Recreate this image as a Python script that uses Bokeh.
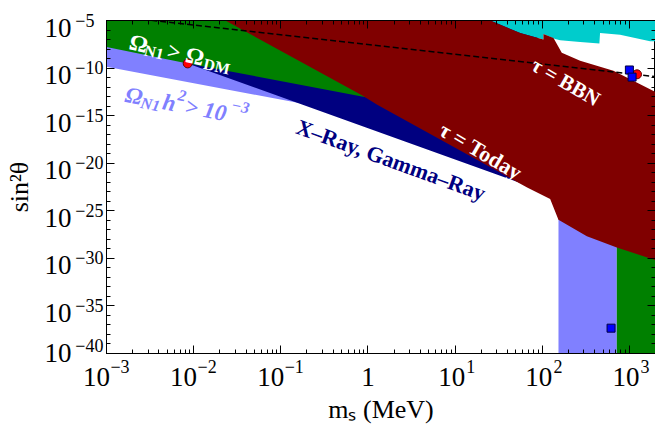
import math
from bokeh.plotting import figure
from bokeh.models import FixedTicker, LogAxis, Range1d, CustomJSTickFormatter
from bokeh.embed import file_html
from bokeh.resources import INLINE
from bokeh.core.properties import value

# ---------------- axis ticks ----------------
x_major = [1e-3, 1e-2, 1e-1, 1.0, 1e1, 1e2, 1e3]
x_label_base = ["10", "10", "10", "1", "10", "10", "10"]
x_label_exp = ["−3", "−2", "−1", "", "1", "2", "3"]
x_minor = [k * 10.0 ** n for n in range(-3, 4) for k in range(2, 10)]
y_major = [1e-40, 1e-35, 1e-30, 1e-25, 1e-20, 1e-15, 1e-10, 1e-5]
y_label_base = ["10"] * 8
y_label_exp = ["−40", "−35", "−30", "−25", "−20", "−15", "−10", "−5"]
y_minor = [10.0 ** n for n in range(-40, -4)]

X_MIN, X_MAX = 1e-3, 2000.0
Y_MIN, Y_MAX = 1e-40, 1e-5

# ---------------- region boundaries (m_s in MeV, sin^2 theta) ----------------
dm_ms = [1e-3, 8.55e-3, 0.885, 10.0]
dm_sin2 = [1.66e-8, 3.09e-10, 9.8e-14, 1.4e-15]

relic_ms = [1e-3, 0.168, 1.0]
relic_sin2 = [1.38e-10, 2.0e-14, 9.1e-16]

xray_ms = [1e-3, 8.55e-3, 72.8, 89.0]
xray_sin2 = [3.6e-7, 3.09e-10, 3.5e-23, 1.8e-23]

today_ms = [0.0146, 0.863, 1.28, 67.3, 123.6, 153.8, 326.0, 719.0, 2500.0]
today_sin2 = [1e-4, 1.33e-13, 1.40e-14, 2.8e-23, 1.75e-24, 1.12e-26, 2.14e-28, 1.38e-29, 3.3e-31]
upper_ms = [2500.0, 658.0, 273.0, 168.0, 135.0, 103.5, 103.5, 56.0, 25.4, 13.9]
upper_sin2 = [1.07e-13, 5.37e-11, 5.75e-10, 4.2e-9, 1.48e-7, 3.8e-7, 9.8e-8, 4.8e-7, 1e-5, 1e-4]

cyan_ms = [13.9, 25.4, 56.0, 103.5, 103.5, 141.0, 161.0, 273.0, 454.0, 462.0, 784.0, 1733.0, 2500.0, 2500.0]
cyan_sin2 = [1e-4, 1e-5, 4.8e-7, 9.8e-8, 3.8e-7, 1.16e-7, 8.3e-8, 5.4e-8, 3.8e-8, 4.8e-7, 3.2e-7, 6.6e-8, 6.6e-8, 1e-4]

band_blue_ms = [154.0, 719.0]
band_green_ms = [719.0, 2500.0]
band_top = 1e-20

bbn_ms = [1e-3, 2500.0]
bbn_sin2 = [3.5e-5, 1.0e-11]

red_ms = [8.55e-3, 1227.0]
red_sin2 = [3.1e-10, 2.2e-11]
blue_ms = [1003.0, 1077.0, 618.0]
blue_sin2 = [6.3e-11, 1.12e-11, 4.6e-38]

# ---------------- colours ----------------
C_GREEN = "#008000"
C_LBLUE = "#8080FF"
C_NAVY = "#000080"
C_MAROON = "#800000"
C_CYAN = "#00CCCC"

FONT = "Liberation Serif"
W, H = 655, 426
BL, BR, BT, BB = 106, 0, 20, 66
FW, FH = W - BL - BR, H - BT - BB

p = figure(width=W, height=H, x_axis_type="log", y_axis_type="log",
           x_range=Range1d(X_MIN, X_MAX), y_range=Range1d(Y_MIN, Y_MAX),
           output_backend="svg", toolbar_location=None,
           min_border_left=BL, min_border_right=BR, min_border_top=BT, min_border_bottom=BB)
p.grid.visible = False
p.outline_line_color = "black"
p.outline_line_width = 1
p.background_fill_color = "white"
p.border_fill_color = "white"

TOP = 1e-4
BOT = 1e-42

p.patch(relic_ms + [relic_ms[-1], relic_ms[0]], relic_sin2 + [TOP, TOP],
        fill_color=C_LBLUE, line_color=None)
p.patch(xray_ms + [xray_ms[-1], xray_ms[0]], xray_sin2 + [TOP, TOP],
        fill_color=C_NAVY, line_color=None)
p.patch(dm_ms + [dm_ms[-1], dm_ms[0]], dm_sin2 + [TOP, TOP],
        fill_color=C_GREEN, line_color=None)
p.patch([band_blue_ms[0], band_blue_ms[1], band_blue_ms[1], band_blue_ms[0]],
        [BOT, BOT, band_top, band_top], fill_color=C_LBLUE, line_color=None)
p.patch([band_green_ms[0], band_green_ms[1], band_green_ms[1], band_green_ms[0]],
        [BOT, BOT, band_top, band_top], fill_color=C_GREEN, line_color=None)
p.patch(cyan_ms, cyan_sin2, fill_color=C_CYAN, line_color=None)
p.patch(today_ms + upper_ms, today_sin2 + upper_sin2, fill_color=C_MAROON, line_color=None)

p.line(bbn_ms, bbn_sin2, line_color="black", line_width=1.5, line_dash="6 3")

p.scatter(red_ms, red_sin2, marker="circle", size=9, fill_color="#FF0000", line_color="#600000", line_width=1)
p.scatter(blue_ms, blue_sin2, marker="square", size=8, fill_color="#0000FF", line_color="#000040", line_width=1)

# ---------------- in-plot text labels ----------------
PX_X = FW / math.log10(X_MAX / X_MIN)
PX_Y = FH / math.log10(Y_MAX / Y_MIN)

CW = {"Ω": 0.72, "N": 0.722, "1": 0.5, " ": 0.25, ">": 0.57, "D": 0.722, "M": 0.944,
      "h": 0.556, "0": 0.5, "2": 0.5, "3": 0.5, "−": 0.57}


def seg_width(txt, size):
    return sum(CW.get(c, 0.5) for c in txt) * size


def place(sx, sy, ang_deg, segs, color, style):
    a = math.radians(ang_deg)
    lx, ly = math.log10(sx), math.log10(sy)
    d = 0.0
    for txt, size, shift, pad in segs:
        dx = d * math.cos(a) - shift * math.sin(a)
        dy = d * math.sin(a) + shift * math.cos(a)
        x = 10 ** (lx + dx / PX_X)
        y = 10 ** (ly + dy / PX_Y)
        p.text(x=[x], y=[y], text=[txt], angle=a, text_font=value(FONT),
               text_font_size=f"{size}px", text_font_style=style, text_color=color,
               text_align="left", text_baseline="alphabetic")
        d += seg_width(txt, size) + pad


place(1.84e-3, 6.1e-8, -13,
      [("Ω", 23, 0, 0), ("N1", 16, -5, 3), (" > Ω", 23, 0, -3), ("DM", 16, -5, 0)],
      "white", "bold")
place(1.65e-3, 1.7e-13, -11,
      [("Ω", 23, 0, 0), ("N1", 16, -5, 2), ("h", 23, 0, 1), ("2", 16, 10, 1),
       (" > 10", 23, 0, -2), ("−3", 16, 10, 0)],
      C_LBLUE, "bold italic")
place(0.155, 8.5e-17, -20, [("X–Ray, Gamma–Ray", 22, 0, 0)], C_NAVY, "bold")
place(6.95, 5.4e-17, -30.5, [("τ = Today", 22, 0, 0)], "white", "bold")
place(78.9, 3.3e-10, -30, [("τ = BBN", 21, 0, 0)], "white", "bold")

# ---------------- axes ----------------
BASE = 27
EXP = 18
NB = "\u00a0"
fmt_code = """
let best = -1, bd = 1e9;
for (let i = 0; i < vals.length; i++) {
  const d = Math.abs(Math.log10(vals[i]) - Math.log10(tick));
  if (d < bd) { bd = d; best = i; }
}
return (best >= 0 && bd < 0.05) ? labs[best] : "";
"""


def fmt(vals, labs):
    return CustomJSTickFormatter(args=dict(vals=list(vals), labs=list(labs)), code=fmt_code)


blank = CustomJSTickFormatter(code="return '';")


def tick_axis(ax, ticks, minors):
    ax.ticker = FixedTicker(ticks=ticks, minor_ticks=minors)
    ax.axis_line_color = "black"
    ax.major_tick_line_color = "black"
    ax.minor_tick_line_color = "black"
    ax.major_tick_in = 8
    ax.major_tick_out = 0
    ax.minor_tick_in = 4
    ax.minor_tick_out = 0
    ax.formatter = blank
    ax.major_label_text_font_size = "0px"
    ax.major_label_standoff = 0
    ax.axis_label = None


def label_axis(ax, ticks, labs, size, standoff):
    ax.ticker = FixedTicker(ticks=ticks, minor_ticks=[])
    ax.formatter = fmt(ticks, labs)
    ax.axis_line_color = None
    ax.major_tick_line_color = None
    ax.minor_tick_line_color = None
    ax.major_tick_in = 0
    ax.major_tick_out = 0
    ax.minor_tick_in = 0
    ax.minor_tick_out = 0
    ax.major_label_text_font = FONT
    ax.major_label_text_font_size = f"{size}px"
    ax.major_label_text_color = "black"
    ax.major_label_standoff = standoff


# frame ticks on all four sides
tick_axis(p.xaxis[0], x_major, x_minor)
tick_axis(p.yaxis[0], y_major, y_minor)
top = LogAxis()
tick_axis(top, x_major, x_minor)
p.add_layout(top, "above")
right = LogAxis()
tick_axis(right, y_major, y_minor)
p.add_layout(right, "right")

# x tick labels: exponent row (inner) and "10" row (outer)
x_exp_lab, x_base_lab = [], []
for b, e in zip(x_label_base, x_label_exp):
    if e == "":
        x_exp_lab.append("")
        x_base_lab.append(b)
    elif e.startswith("−"):
        x_exp_lab.append(NB * 6 + e)
        x_base_lab.append(b + NB * 3)
    else:
        x_exp_lab.append(NB * 7 + e)
        x_base_lab.append(b + NB * 1)

xe = LogAxis()
label_axis(xe, x_major, x_exp_lab, EXP, 3)
p.add_layout(xe, "below")
xb = LogAxis()
label_axis(xb, x_major, x_base_lab, BASE, -18)
xb.axis_label = "mₛ (MeV)"
xb.axis_label_text_font = FONT
xb.axis_label_text_font_size = "26px"
xb.axis_label_text_font_style = "normal"
xb.axis_label_text_color = "black"
xb.axis_label_standoff = 0
p.add_layout(xb, "below")

# y tick labels: exponent column (inner) and "10" column (outer)
LOW_LIFT = 0.8
BASE_DROP = 0.75
w_exp_max = max(len(e) for e in y_label_exp)
y_exp_lab = [e + NB * 2 * (w_exp_max - len(e)) for e in y_label_exp]
y_exp_ticks = [v * (10 ** LOW_LIFT if i == 0 else 1.0) for i, v in enumerate(y_major)]
y_base_ticks = [v * 10 ** ((LOW_LIFT if i == 0 else 0.0) - BASE_DROP) for i, v in enumerate(y_major)]

ye = LogAxis()
label_axis(ye, y_exp_ticks, y_exp_lab, EXP, 3)
p.add_layout(ye, "left")
yb = LogAxis()
label_axis(yb, y_base_ticks, y_label_base, BASE, 1)
yb.axis_label = "sin²θ"
yb.axis_label_text_font = FONT
yb.axis_label_text_font_size = "26px"
yb.axis_label_text_font_style = "normal"
yb.axis_label_text_color = "black"
yb.axis_label_standoff = 8
p.add_layout(yb, "left")

open("out.html", "w").write(file_html(p, INLINE))
